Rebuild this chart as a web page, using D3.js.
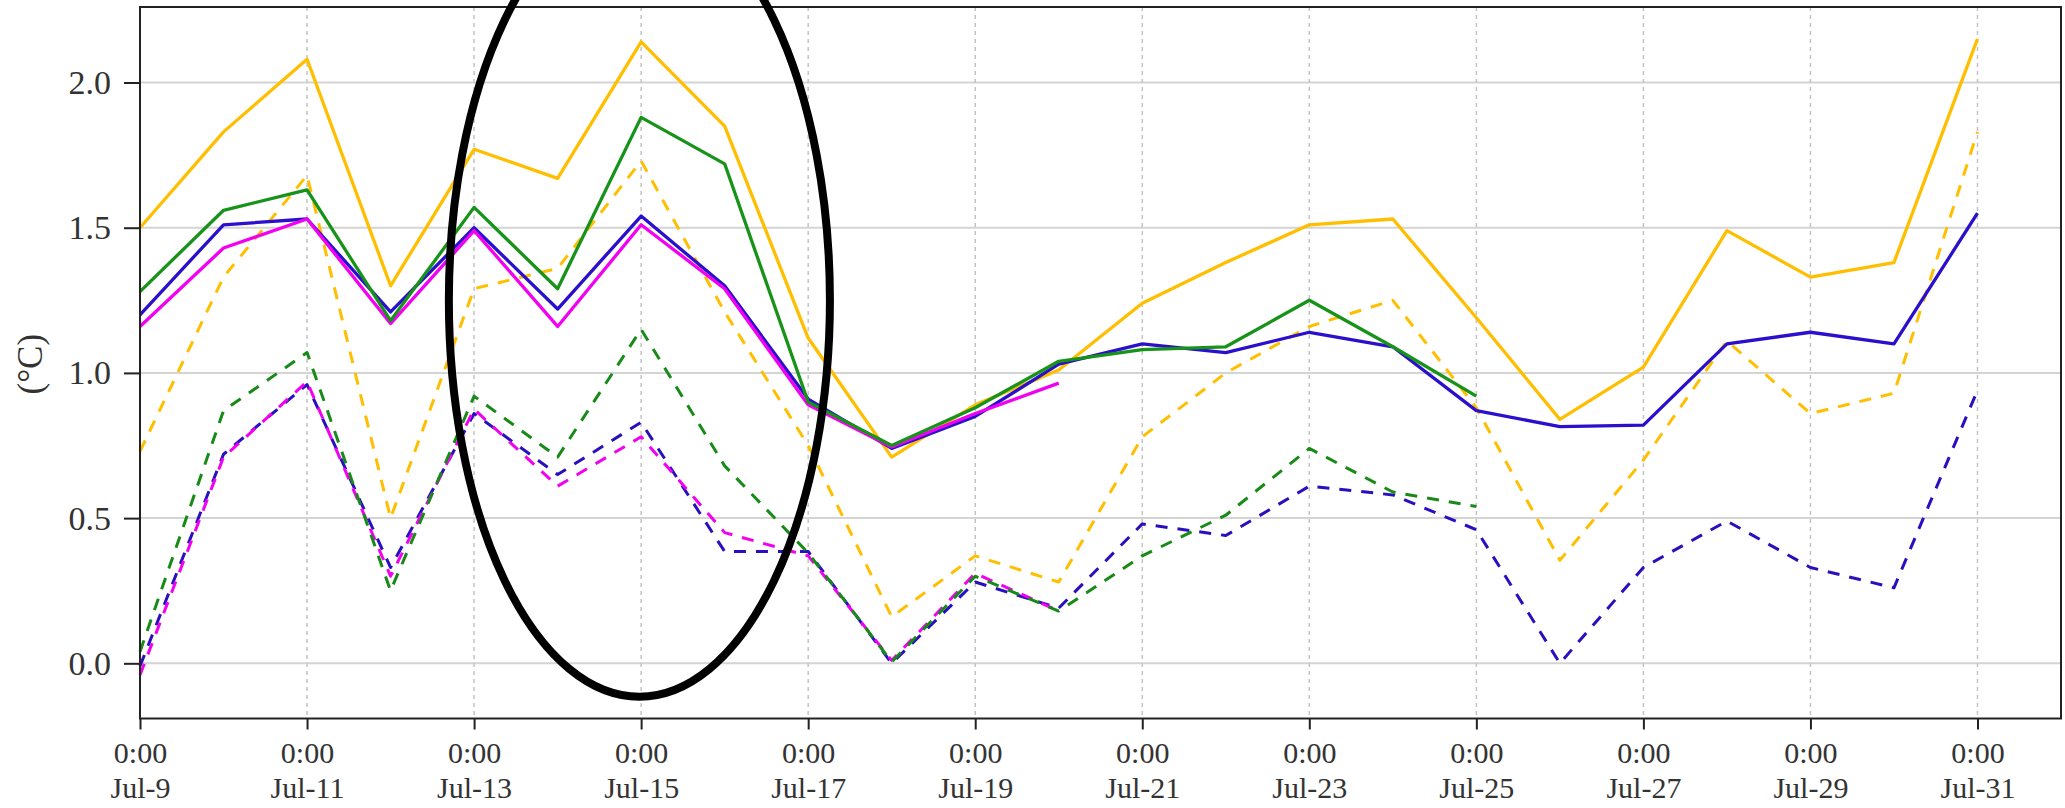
<!DOCTYPE html>
<html>
<head>
<meta charset="utf-8">
<script src="https://cdn.jsdelivr.net/npm/d3@7"></script>
<style>
body { margin: 0; background: #fff; }
svg { display: block; font-family: "Liberation Serif", "Times New Roman", serif; }
</style>
</head>
<body>
<div id="chart"></div>
<script>
// daily values, Jul-9 .. Jul-31 (0:00)
const dates = [
	"2019-07-09", "2019-07-10", "2019-07-11", "2019-07-12", "2019-07-13", "2019-07-14",
	"2019-07-15", "2019-07-16", "2019-07-17", "2019-07-18", "2019-07-19", "2019-07-20",
	"2019-07-21", "2019-07-22", "2019-07-23", "2019-07-24", "2019-07-25", "2019-07-26",
	"2019-07-27", "2019-07-28", "2019-07-29", "2019-07-30", "2019-07-31"
];

const yellow_solid = [1.50, 1.83, 2.08, 1.30, 1.77, 1.67, 2.14, 1.85, 1.12, 0.71, 0.89, 1.01, 1.24, 1.38, 1.51, 1.53, 1.19, 0.84, 1.02, 1.49, 1.33, 1.38, 2.15];
const green_solid  = [1.28, 1.56, 1.63, 1.18, 1.57, 1.29, 1.88, 1.72, 0.90, 0.75, 0.88, 1.04, 1.08, 1.09, 1.25, 1.09, 0.92];
const blue_solid   = [1.20, 1.51, 1.53, 1.21, 1.50, 1.22, 1.54, 1.30, 0.91, 0.74, 0.85, 1.03, 1.10, 1.07, 1.14, 1.09, 0.87, 0.815, 0.82, 1.10, 1.14, 1.10, 1.55];
const pink_solid   = [1.16, 1.43, 1.53, 1.17, 1.49, 1.16, 1.51, 1.29, 0.89, 0.745, 0.86, 0.965];

const yellow_dash = [0.73, 1.33, 1.68, 0.50, 1.29, 1.36, 1.73, 1.21, 0.75, 0.16, 0.37, 0.28, 0.78, 1.00, 1.16, 1.25, 0.88, 0.355, 0.70, 1.11, 0.86, 0.93, 1.83];
const green_dash  = [0.04, 0.87, 1.07, 0.25, 0.92, 0.71, 1.15, 0.68, 0.38, 0.005, 0.30, 0.18, 0.37, 0.51, 0.74, 0.59, 0.54];
const blue_dash   = [-0.01, 0.72, 0.96, 0.33, 0.86, 0.65, 0.83, 0.385, 0.385, 0.0, 0.28, 0.19, 0.48, 0.44, 0.61, 0.58, 0.46, 0.0, 0.33, 0.49, 0.33, 0.26, 0.94];
const pink_dash   = [-0.04, 0.71, 0.97, 0.30, 0.875, 0.61, 0.78, 0.45, 0.37, 0.01, 0.31, 0.18];

const x_ticks = ["2019-07-09", "2019-07-11", "2019-07-13", "2019-07-15", "2019-07-17", "2019-07-19",
	"2019-07-21", "2019-07-23", "2019-07-25", "2019-07-27", "2019-07-29", "2019-07-31"];
const y_ticks = [0, 0.5, 1.0, 1.5, 2.0];
const y_label = "(°C)";

// hand drawn ring round Jul-13 .. Jul-17
const ring = { x0: "2019-07-12T16:45", x1: "2019-07-17T06:15", y0: -0.115, y1: 2.615 };

const parseDay = d3.timeParse("%Y-%m-%d");
const parseHour = d3.timeParse("%Y-%m-%dT%H:%M");

main();

function main() {
	const series = [
		{ values: yellow_dash, color: "#ffbf00", dash: true },
		{ values: blue_dash, color: "#2a0fbf", dash: true },
		{ values: pink_dash, color: "#f200f2", dash: true },
		{ values: green_dash, color: "#188a18", dash: true },
		{ values: yellow_solid, color: "#ffbf00", dash: false },
		{ values: blue_solid, color: "#2a0fcc", dash: false },
		{ values: pink_solid, color: "#f200f2", dash: false },
		{ values: green_solid, color: "#17931a", dash: false }
	];
	drawChart(series);
}

function drawChart(series) {
	const width = 2065;
	const height = 808;
	const marginLeft = 140, marginRight = 4, marginTop = 7, marginBottom = 89.5;

	const x = d3.scaleTime()
		.domain([parseDay("2019-07-09"), parseDay("2019-08-01")])
		.range([marginLeft, width - marginRight]);
	const y = d3.scaleLinear()
		.domain([-0.19, 2.26])
		.range([height - marginBottom, marginTop]);

	const svg = d3.select("#chart").append("svg")
		.attr("width", width)
		.attr("height", height)
		.attr("viewBox", [0, 0, width, height]);

	// grid
	svg.append("g")
		.selectAll("line")
		.data(y_ticks)
		.join("line")
			.attr("x1", marginLeft)
			.attr("x2", width - marginRight)
			.attr("y1", d => y(d))
			.attr("y2", d => y(d))
			.attr("stroke", "#d4d4d4")
			.attr("stroke-width", 2);

	svg.append("g")
		.selectAll("line")
		.data(x_ticks.map(parseDay))
		.join("line")
			.attr("x1", d => x(d))
			.attr("x2", d => x(d))
			.attr("y1", marginTop)
			.attr("y2", height - marginBottom)
			.attr("stroke", "#c4c4c4")
			.attr("stroke-width", 1.5)
			.attr("stroke-dasharray", "4,4");

	// series
	const line = d3.line()
		.defined(d => d[1] != null)
		.x(d => x(d[0]))
		.y(d => y(d[1]));

	svg.append("g")
		.attr("fill", "none")
		.attr("stroke-linejoin", "round")
		.selectAll("path")
		.data(series)
		.join("path")
			.attr("d", s => line(s.values.map((v, i) => [parseDay(dates[i]), v])))
			.attr("stroke", s => s.color)
			.attr("stroke-width", s => s.dash ? 3 : 3.3)
			.attr("stroke-dasharray", s => s.dash ? "12,10" : null);

	// frame
	svg.append("rect")
		.attr("x", marginLeft)
		.attr("y", marginTop)
		.attr("width", width - marginLeft - marginRight)
		.attr("height", height - marginTop - marginBottom)
		.attr("fill", "none")
		.attr("stroke", "#222")
		.attr("stroke-width", 2);

	// y axis
	svg.append("g")
		.attr("transform", `translate(${marginLeft},0)`)
		.call(d3.axisLeft(y).tickValues(y_ticks).tickFormat(d3.format(".1f")).tickSize(16).tickPadding(13))
		.call(g => g.select(".domain").remove())
		.call(g => g.selectAll(".tick line").attr("stroke", "#222").attr("stroke-width", 2))
		.call(g => g.selectAll(".tick text")
			.attr("font-family", "Liberation Serif")
			.attr("font-size", 34)
			.attr("fill", "#333"));

	svg.append("text")
		.attr("transform", `translate(42,${y(1.03)}) rotate(-90)`)
		.attr("text-anchor", "middle")
		.attr("font-size", 35)
		.attr("fill", "#333")
		.text(y_label);

	// x axis, two line labels
	const fmtTime = d3.timeFormat("%-H:%M");
	const fmtDay = d3.timeFormat("%b-%-d");
	svg.append("g")
		.attr("transform", `translate(0,${height - marginBottom})`)
		.call(d3.axisBottom(x).tickValues(x_ticks.map(parseDay)).tickFormat("").tickSize(11))
		.call(g => g.select(".domain").remove())
		.call(g => g.selectAll(".tick line").attr("stroke", "#222").attr("stroke-width", 2))
		.call(g => g.selectAll(".tick text").remove())
		.call(g => g.selectAll(".tick").append("text")
			.attr("fill", "#333")
			.attr("font-family", "Liberation Serif")
			.attr("font-size", 30)
			.attr("text-anchor", "middle")
			.call(t => t.append("tspan").attr("x", 0).attr("y", 44.5).text(d => fmtTime(d)))
			.call(t => t.append("tspan").attr("x", 0).attr("y", 79.5).text(d => fmtDay(d))));

	// ring annotation
	const rx0 = x(parseHour(ring.x0)), rx1 = x(parseHour(ring.x1));
	const ry0 = y(ring.y1), ry1 = y(ring.y0);
	svg.append("ellipse")
		.attr("cx", (rx0 + rx1) / 2)
		.attr("cy", (ry0 + ry1) / 2)
		.attr("rx", (rx1 - rx0) / 2)
		.attr("ry", (ry1 - ry0) / 2)
		.attr("fill", "none")
		.attr("stroke", "#000")
		.attr("stroke-width", 8);
}
</script>
</body>
</html>
